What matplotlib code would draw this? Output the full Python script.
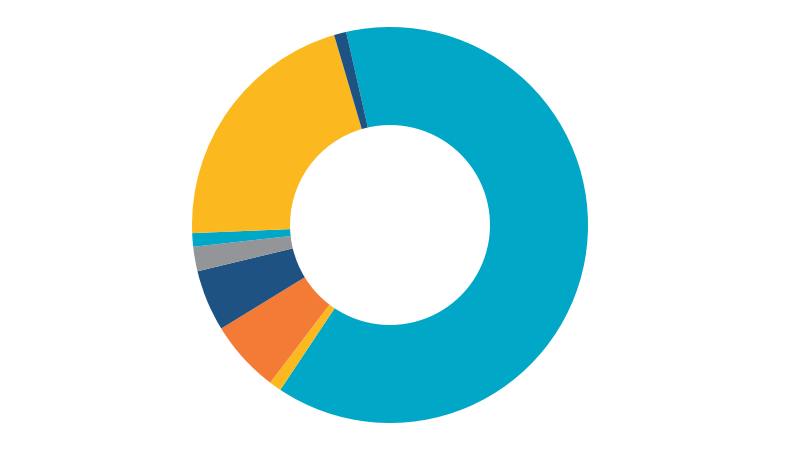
import matplotlib
matplotlib.use("Agg")
import matplotlib.pyplot as plt

categories = ["A", "B", "C", "D", "E", "F", "G", "H"]
values = [62.9, 1.0, 5.9, 5.0, 2.0, 1.1, 21.1, 1.0]
colors = ["#00A7C6", "#FBB91F", "#F47B36", "#1D5283", "#939598", "#00A7C6", "#FBB91F", "#1D5283"]

fig = plt.figure(figsize=(8, 4.5), dpi=100)
ax = fig.add_axes([192/800, 27/450, 396/800, 396/450])
ax.pie(values, colors=colors, startangle=102.8, counterclock=False,
       radius=1.0, wedgeprops=dict(width=0.495, linewidth=0, edgecolor="none"))
ax.set_xlim(-1, 1)
ax.set_ylim(-1, 1)
ax.set_aspect("equal")
ax.axis("off")
fig.savefig("out.png", dpi=100, facecolor="white")
